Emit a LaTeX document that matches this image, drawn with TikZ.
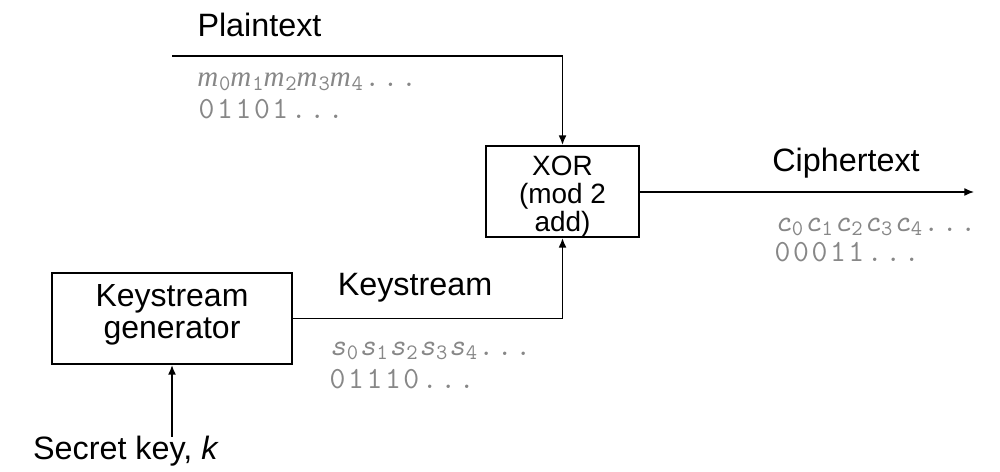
\documentclass[tikz,border=0pt]{standalone}
\usepackage{fontspec}
\setmainfont{Liberation Sans}
\newfontfamily\seriffam{Liberation Serif}
\usetikzlibrary{arrows.meta}
\definecolor{seqgray}{RGB}{135,135,135}
% fixed pitch characters, like Courier
\def\spc#1{\ifx#1\relax\else\makebox[10.5pt]{#1}\expandafter\spc\fi}
\newcommand\subdigit[1]{\lower0.3ex\hbox{\fontsize{12.5}{12.5}\selectfont\ttfamily\upshape #1}}
\newcommand\symsub[2]{\makebox[10.5pt]{#1}\subdigit{#2}}
\newcommand\natsub[2]{#1\kern0.5pt\subdigit{#2}}
\begin{document}
\begin{tikzpicture}[x=0.02cm,y=-0.02cm,
  blk/.style={draw,line width=1pt,inner sep=0pt},
  boxtxt/.style={align=center,inner sep=0pt},
  lbl/.style={font=\fontsize{18.4}{20}\selectfont,inner sep=0pt},
  seq/.style={anchor=base west,inner sep=0pt,text=seqgray,font=\fontsize{17.5}{20}\selectfont\ttfamily},
  conn/.style={line width=1pt},
  arr/.style={conn,-{Latex[length=5.5pt,width=4.5pt]}}]
\useasboundingbox (0,0) rectangle (1000,472);
% boxes
\node[blk,minimum width=3.06cm,minimum height=1.82cm] (xor) at (562.5,191.5) {};
\node[boxtxt,font=\fontsize{15.9}{15.9}\selectfont] (xortxt) at (562.5,197) {XOR\\(mod 2\\add)};
\node[blk,minimum width=4.8cm,minimum height=1.82cm] (gen) at (172,318.5) {};
\node[boxtxt,font=\fontsize{18.2}{18.2}\selectfont] (gentxt) at (172,314.5) {Keystream\\generator};
% labels
\node[lbl] (pt) at (259.5,25) {Plaintext};
\node[lbl] (ct) at (846,163) {Ciphertext};
\node[lbl] (ks) at (415,288) {Keystream};
\node[lbl] (sk) at (126,451) {Secret key, \textit{k}};
% sequences
\node[seq] (mseq) at (197,86.5)
  {{\seriffam\fontsize{16.5}{20}\selectfont\itshape\natsub{m}{0}\natsub{m}{1}\natsub{m}{2}\natsub{m}{3}\natsub{m}{4}}\spc...\relax};
\node[seq] (mbits) at (197,119) {\spc01101...\relax};
\node[seq] (cseq) at (773,232)
  {{\itshape\symsub{c}{0}\symsub{c}{1}\symsub{c}{2}\symsub{c}{3}\symsub{c}{4}}\spc...\relax};
\node[seq] (cbits) at (773,262) {\spc00011...\relax};
\node[seq] (sseq) at (328,356)
  {{\itshape\symsub{s}{0}\symsub{s}{1}\symsub{s}{2}\symsub{s}{3}\symsub{s}{4}}\spc...\relax};
\node[seq] (sbits) at (328,389) {\spc01110...\relax};
% connectors
\coordinate (pstart) at (172,56);
\coordinate (cend) at (974,192);
\coordinate (key) at (172,437);
\draw[arr] (pstart) -| (xor.north);
\draw[arr] (gen.east) -| (xor.south);
\draw[arr,line width=0.7pt] (xor.east |- cend) -- (cend);
\draw[arr] (key) -- (gen.south);
\end{tikzpicture}
\end{document}
